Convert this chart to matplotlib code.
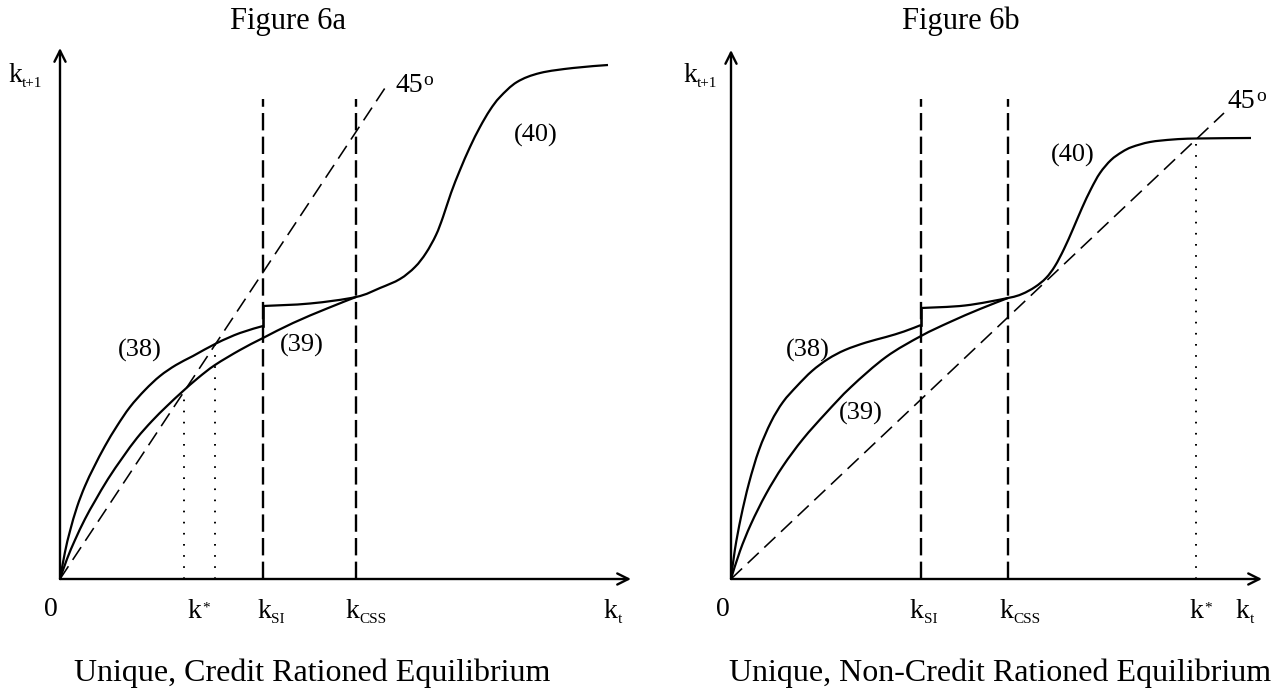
import matplotlib
matplotlib.use('Agg')
import matplotlib.pyplot as plt
from matplotlib.path import Path
from matplotlib.patches import PathPatch

plt.rcParams['font.family'] = ['Liberation Serif', 'DejaVu Serif']
plt.rcParams['lines.scale_dashes'] = False

# ---- Figure 6a (credit rationed) ----
a_x38 = [0, 5, 10, 17, 25, 34, 45, 57, 70, 85, 100, 116, 133, 157, 180, 203]
a_y38 = [0, 27, 48, 72, 93, 112, 133, 153, 172, 189, 203, 214, 223, 236, 246, 253]

a_x39 = [0, 7, 15, 25, 35, 48, 63, 77, 92, 107, 122, 138, 155, 180, 203, 233, 267, 296]
a_y39 = [0, 20, 39, 60, 78, 100, 122, 141, 158, 173, 187, 201, 214, 229, 241, 256, 270.5, 282]

a_x40 = [203, 250, 296, 320, 340, 355, 366, 376, 383, 391, 400, 410, 420, 430, 440, 457, 480, 513, 548]
a_y40 = [273, 275.5, 282, 291, 300, 312, 326, 344, 362, 386, 409, 432, 452, 469, 482, 497, 506, 511, 514]

a_k_si, a_k_css = 203, 296
a_diag_end = (325, 491)
a_dotted = [(124, 186), (155, 236)]      # (x, top) of the dotted drop lines
a_top = 480

# ---- Figure 6b (non-credit rationed) ----
b_x38 = [0, 4, 10, 18, 28, 40, 52, 66, 81, 97, 114, 135, 155, 173, 190]
b_y38 = [0, 30, 62, 96, 129, 157, 177, 193, 208, 220, 229, 236.5, 242, 247.5, 254]

b_x39 = [0, 9, 20, 35, 52, 72, 95, 120, 155, 190, 219, 249, 277]
b_y39 = [0, 28, 55, 85, 113, 140, 166, 192, 222, 243, 257, 270, 281]

b_x40 = [190, 234, 277, 291, 304, 315, 324, 333, 342, 351, 360, 369, 380, 391, 401, 419, 442, 465, 520]
b_y40 = [271, 273.5, 281, 285, 292, 301, 313, 330, 350, 371, 390, 406, 419, 427, 432, 437, 439.5, 440.5, 441]

b_k_si, b_k_css, b_k_star = 190, 277, 465
b_diag_end = (493, 466)
b_dotted = [(465, 440.5)]
b_top = 480

fig = plt.figure(figsize=(12.74, 6.93), dpi=100)
ax_a = fig.add_axes([0, 0, 0.5, 1])
ax_b = fig.add_axes([0.5, 0, 0.5, 1])
ax_a.set_xlim(-60, 577)
ax_b.set_xlim(-94, 543)
for ax in (ax_a, ax_b):
    ax.set_ylim(-114, 579)
    ax.axis('off')

LW = 1.6


def smooth_curve(ax, xs, ys, lw=LW):
    # Catmull-Rom through the points, drawn as cubic Bezier segments
    pts = list(zip(xs, ys))
    n = len(pts)
    verts = [pts[0]]
    codes = [Path.MOVETO]
    for i in range(n - 1):
        p0 = pts[max(i - 1, 0)]
        p1 = pts[i]
        p2 = pts[i + 1]
        p3 = pts[min(i + 2, n - 1)]
        c1 = (p1[0] + (p2[0] - p0[0]) / 6, p1[1] + (p2[1] - p0[1]) / 6)
        c2 = (p2[0] - (p3[0] - p1[0]) / 6, p2[1] - (p3[1] - p1[1]) / 6)
        verts += [c1, c2, p2]
        codes += [Path.CURVE4] * 3
    ax.add_patch(PathPatch(Path(verts, codes), fill=False, lw=lw, edgecolor='black',
                           joinstyle='round', capstyle='butt'))


def k_label(ax, x, y, sub=None, sup=None, size=20):
    t = ax.text(x, y, 'k', fontsize=size, ha='left', va='baseline')
    if sub:
        ax.annotate(sub, xy=(1, 0), xycoords=t, xytext=(0, -1.5), textcoords='offset points',
                    fontsize=size * 0.55, ha='left', va='bottom')
    if sup:
        ax.annotate(sup, xy=(1, 1), xycoords=t, xytext=(1, -2), textcoords='offset points',
                    fontsize=size * 0.55, ha='left', va='top')
    return t


def draw_panel(ax, x38, y38, x39, y39, x40, y40, k_si, k_css, diag_end, dotted, top, x_tip, y_tip):
    # axes with open arrow heads
    arrow = dict(arrowstyle='->', lw=1.7, color='black', mutation_scale=20, shrinkA=0, shrinkB=0)
    ax.annotate('', xy=(x_tip, 0), xytext=(0, 0), arrowprops=arrow)
    ax.annotate('', xy=(0, y_tip), xytext=(0, 0), arrowprops=arrow)

    # 45 degree line
    ax.plot([0, diag_end[0]], [0, diag_end[1]], color='black', lw=1.15, dashes=(11, 5.5))

    # threshold lines
    for xv in (k_si, k_css):
        ax.plot([xv, xv], [0, top], color='black', lw=1.7, dashes=(12.5, 4.5))
    for xv, ytop in dotted:
        ax.plot([xv, xv], [0, ytop], color='black', lw=1.4, dashes=(1.2, 6.8))

    # transition curves
    smooth_curve(ax, x38, y38)
    smooth_curve(ax, x39, y39)
    smooth_curve(ax, x40, y40)
    ax.plot([k_si, k_si], [y38[-1], y40[0]], color='black', lw=1.9)


draw_panel(ax_a, a_x38, a_y38, a_x39, a_y39, a_x40, a_y40, a_k_si, a_k_css,
           a_diag_end, a_dotted, a_top, 571, 531)
draw_panel(ax_b, b_x38, b_y38, b_x39, b_y39, b_x40, b_y40, b_k_si, b_k_css,
           b_diag_end, b_dotted, b_top, 531, 529)

# labels, Figure 6a
ax_a.text(228, 558, 'Figure 6a', fontsize=22, ha='center', va='center')
ax_a.text(252, -94, 'Unique, Credit Rationed Equilibrium', fontsize=23, ha='center', va='center')
k_label(ax_a, -52, 497, sub='t+1')
ax_a.text(-9, -30, '0', fontsize=20, ha='center', va='center')
k_label(ax_a, 127, -39, sup='*')
k_label(ax_a, 197, -39, sub='SI')
k_label(ax_a, 285, -39, sub='CSS')
k_label(ax_a, 544, -39, sub='t')
ax_a.text(80, 229, '(38)', fontsize=19, ha='center', va='center')
ax_a.text(242, 234, '(39)', fontsize=19, ha='center', va='center')
ax_a.text(476, 444, '(40)', fontsize=19, ha='center', va='center')
t45a = ax_a.text(335, 487, '45', fontsize=20, ha='left', va='baseline')
ax_a.annotate('o', xy=(1, 1), xycoords=t45a, xytext=(0.5, 0.5), textcoords='offset points',
              fontsize=14, ha='left', va='top')

# labels, Figure 6b
ax_b.text(230, 558, 'Figure 6b', fontsize=22, ha='center', va='center')
ax_b.text(269, -94, 'Unique, Non-Credit Rationed Equilibrium', fontsize=23, ha='center', va='center')
k_label(ax_b, -48, 497, sub='t+1')
ax_b.text(-8, -30, '0', fontsize=20, ha='center', va='center')
k_label(ax_b, 179, -39, sub='SI')
k_label(ax_b, 268, -39, sub='CSS')
k_label(ax_b, 458, -39, sup='*')
k_label(ax_b, 505, -39, sub='t')
ax_b.text(77, 229, '(38)', fontsize=19, ha='center', va='center')
ax_b.text(130, 166, '(39)', fontsize=19, ha='center', va='center')
ax_b.text(342, 424, '(40)', fontsize=19, ha='center', va='center')
t45b = ax_b.text(497, 471, '45', fontsize=20, ha='left', va='baseline')
ax_b.annotate('o', xy=(1, 1), xycoords=t45b, xytext=(0.5, 0.5), textcoords='offset points',
              fontsize=14, ha='left', va='top')

fig.savefig('out.png', dpi=100, facecolor='white')
